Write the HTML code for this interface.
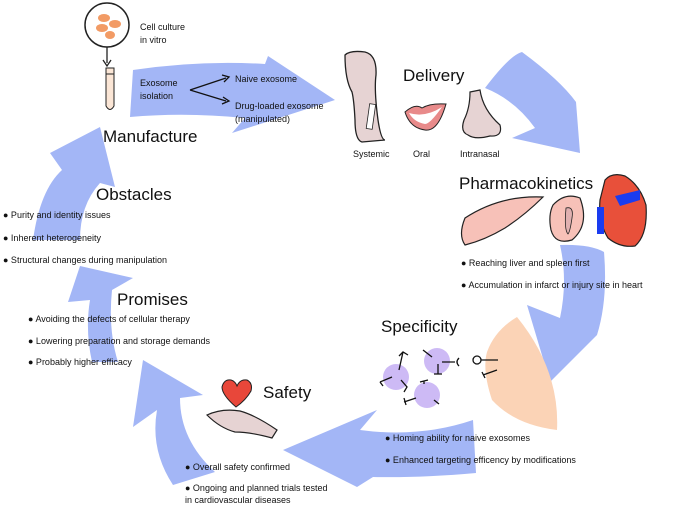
<!DOCTYPE html>
<html><head><meta charset="utf-8"><style>
html,body{margin:0;padding:0;background:#fff;overflow:hidden;}
svg{display:block;font-family:"Liberation Sans","DejaVu Sans",sans-serif;}
.b{font-size:9px;fill:#111;}
.h{font-size:17px;fill:#111;}
</style></head><body>
<svg width="673" height="505" viewBox="0 0 673 505" xmlns="http://www.w3.org/2000/svg">
<g fill="#a3b6f6">
<!-- Manufacture -> Delivery -->
<path d="M133,70 Q200,60 265,64 L268,56 L335,100 L232,133 L245,118 Q185,112 130,117 Z"/>
<!-- Delivery -> PK -->
<path d="M485,88 Q510,55 522,52 Q560,80 576,102 L580,153 L512,138 L535,128 Q515,100 485,88 Z"/>
<!-- PK -> Specificity -->
<path d="M560,245 Q590,244 604,252 Q608,300 597,335 L550,382 L527,305 L560,318 Q568,280 560,245 Z"/>
<!-- Specificity -> Safety -->
<path d="M473,420 L476,473 Q420,478 373,477 L357,487 L283,450 L377,410 L360,430 Q420,438 473,420 Z"/>
<!-- Safety -> Promises -->
<path d="M173,485 Q150,450 157,410 L133,427 L143,360 L203,395 L180,398 Q180,440 215,472 Z"/>
<!-- Promises -> Obstacles -->
<path d="M92,362 Q85,330 90,300 L68,302 L80,266 L133,278 L112,290 Q108,330 118,362 Z"/>
<!-- Obstacles -> Manufacture -->
<path d="M33,240 Q40,190 62,170 L50,153 L100,127 L115,187 L100,183 Q80,205 80,240 Z"/>
</g>
<!-- magnifier & tube -->
<circle cx="107" cy="25" r="22" fill="#fff" stroke="#222" stroke-width="1.5"/>
<g fill="#f08a4b" opacity="0.85"><ellipse cx="104" cy="18" rx="6" ry="4"/><ellipse cx="115" cy="24" rx="6" ry="4"/><ellipse cx="102" cy="28" rx="6" ry="4"/><ellipse cx="110" cy="35" rx="5" ry="4"/></g>
<line x1="107" y1="47" x2="107" y2="63" stroke="#222" stroke-width="1.3"/>
<path d="M103,60 L107,66 L111,60" fill="none" stroke="#222" stroke-width="1.3"/>
<path d="M106,68 L114,68 L114,106 Q110,113 106,106 Z" fill="#fbe6d6" stroke="#222" stroke-width="1"/>
<line x1="106" y1="74" x2="114" y2="74" stroke="#222"/>
<!-- branching arrows -->
<path d="M190,90 L226,78 M190,90 L226,101" stroke="#111" stroke-width="1.3" fill="none"/>
<path d="M222,75 L229,77 L224,82 M222,104 L229,101 L223,97" stroke="#111" stroke-width="1.3" fill="none"/>
<!-- delivery icons -->
<path d="M345,55 Q350,50 365,52 Q377,55 376,75 Q374,90 378,120 Q381,140 385,140 L362,142 Q355,140 355,120 Q354,100 352,92 Q345,80 345,55 Z" fill="#e6d3d3" stroke="#222" stroke-width="1.3"/>
<rect x="368" y="104" width="6" height="25" fill="#fff" stroke="#222" stroke-width="0.8" transform="rotate(8 371 116)"/>
<path d="M405,112 Q415,103 422,108 Q430,103 446,104 Q438,132 425,130 Q410,128 405,112 Z" fill="#e88a8a" stroke="#222" stroke-width="1"/>
<path d="M409,113 Q425,118 442,107 Q430,124 425,124 Q414,122 409,113Z" fill="#fff"/>
<path d="M470,92 L480,90 Q483,110 500,125 Q503,137 490,136 Q475,140 468,135 Q460,132 464,120 Q470,108 470,92 Z" fill="#e6d3d3" stroke="#222" stroke-width="1.2"/>
<!-- PK icons -->
<path d="M465,218 Q500,195 543,197 Q525,215 505,228 Q485,240 465,245 Q458,235 465,218 Z" fill="#f7c1b8" stroke="#222" stroke-width="1.2"/>
<path d="M553,205 Q565,192 580,198 Q590,225 572,240 Q555,245 551,230 Q548,215 553,205 Z" fill="#f7c1b8" stroke="#222" stroke-width="1.2"/>
<path d="M566,208 Q574,206 572,218 Q570,232 568,234 Q564,230 566,208Z" fill="#e0b0b0" stroke="#222" stroke-width="0.8"/>
<path d="M605,180 Q612,172 625,176 Q640,185 646,205 Q648,235 635,246 Q620,248 608,238 Q598,222 600,200 Z" fill="#e8503a" stroke="#222" stroke-width="1.2"/>
<path d="M615,196 L640,190 L640,200 L620,206 Z" fill="#1a3cf0"/>
<rect x="597" y="207" width="7" height="27" fill="#1a3cf0"/>
<!-- specificity -->
<path d="M517,317 Q560,370 557,430 Q515,425 492,400 Q482,370 487,352 Q495,330 517,317 Z" fill="#fbd3b6"/>
<g fill="#cdbaf5"><circle cx="396" cy="377" r="13"/><circle cx="437" cy="361" r="13"/><circle cx="427" cy="395" r="13"/></g>
<g stroke="#111" stroke-width="1.3" fill="none">
<path d="M403,352 L399,370 M399,356 L403,352 L408,355"/><path d="M380,382 L392,377 M380,382 L383,386"/><path d="M401,380 L407,387 L404,392"/>
<path d="M423,350 L432,357"/><path d="M442,362 L455,362 M459,358 Q455,362 459,366"/><path d="M438,364 L438,374 M434,374 L442,374"/>
<path d="M424,381 L424,384 M420,382 L428,380"/><path d="M404,402 L416,398 M404,398 L406,405"/><path d="M434,400 L439,404"/>
<circle cx="477" cy="360" r="4"/><path d="M481,360 L498,360"/><path d="M483,375 L497,370 M482,372 L485,378"/>
</g>
<!-- heart & hand -->
<path d="M236,407 Q222,395 222,387 Q224,379 231,380 Q235,381 237,386 Q240,379 247,380 Q253,383 251,391 Q246,400 236,407 Z" fill="#e8473a" stroke="#222" stroke-width="1"/>
<path d="M207,415 Q222,408 240,411 Q255,415 277,430 L272,438 Q250,432 235,432 Q220,428 207,415 Z" fill="#e6d3d3" stroke="#222" stroke-width="1.2"/>
<!-- text -->
<text class="b" x="140" y="30">Cell culture</text><text class="b" x="140" y="43">in vitro</text>
<text class="b" x="140" y="86">Exosome</text><text class="b" x="140" y="99">isolation</text>
<text class="b" x="235" y="82">Naive exosome</text>
<text class="b" x="235" y="109">Drug-loaded exosome</text><text class="b" x="235" y="122">(manipulated)</text>
<text class="h" x="103" y="142">Manufacture</text>
<text class="h" x="96" y="200">Obstacles</text>
<text class="b" x="3" y="218">● Purity and identity issues</text>
<text class="b" x="3" y="241">● Inherent heterogeneity</text>
<text class="b" x="3" y="263">● Structural changes during manipulation</text>
<text class="h" x="117" y="305">Promises</text>
<text class="b" x="28" y="322">● Avoiding the defects of cellular therapy</text>
<text class="b" x="28" y="344">● Lowering preparation and storage demands</text>
<text class="b" x="28" y="365">● Probably higher efficacy</text>
<text class="h" x="263" y="398">Safety</text>
<text class="b" x="185" y="470">● Overall safety confirmed</text>
<text class="b" x="185" y="491">● Ongoing and planned trials tested</text>
<text class="b" x="185" y="503">in cardiovascular diseases</text>
<text class="h" x="381" y="332">Specificity</text>
<text class="b" x="385" y="441">● Homing ability for naive exosomes</text>
<text class="b" x="385" y="463">● Enhanced targeting efficency by modifications</text>
<text class="h" x="403" y="81">Delivery</text>
<text class="b" x="353" y="157">Systemic</text><text class="b" x="413" y="157">Oral</text><text class="b" x="460" y="157">Intranasal</text>
<text class="h" x="459" y="189">Pharmacokinetics</text>
<text class="b" x="461" y="266">● Reaching  liver and spleen first</text>
<text class="b" x="461" y="288">● Accumulation in infarct or injury site in heart</text>
</svg>
</body></html>
